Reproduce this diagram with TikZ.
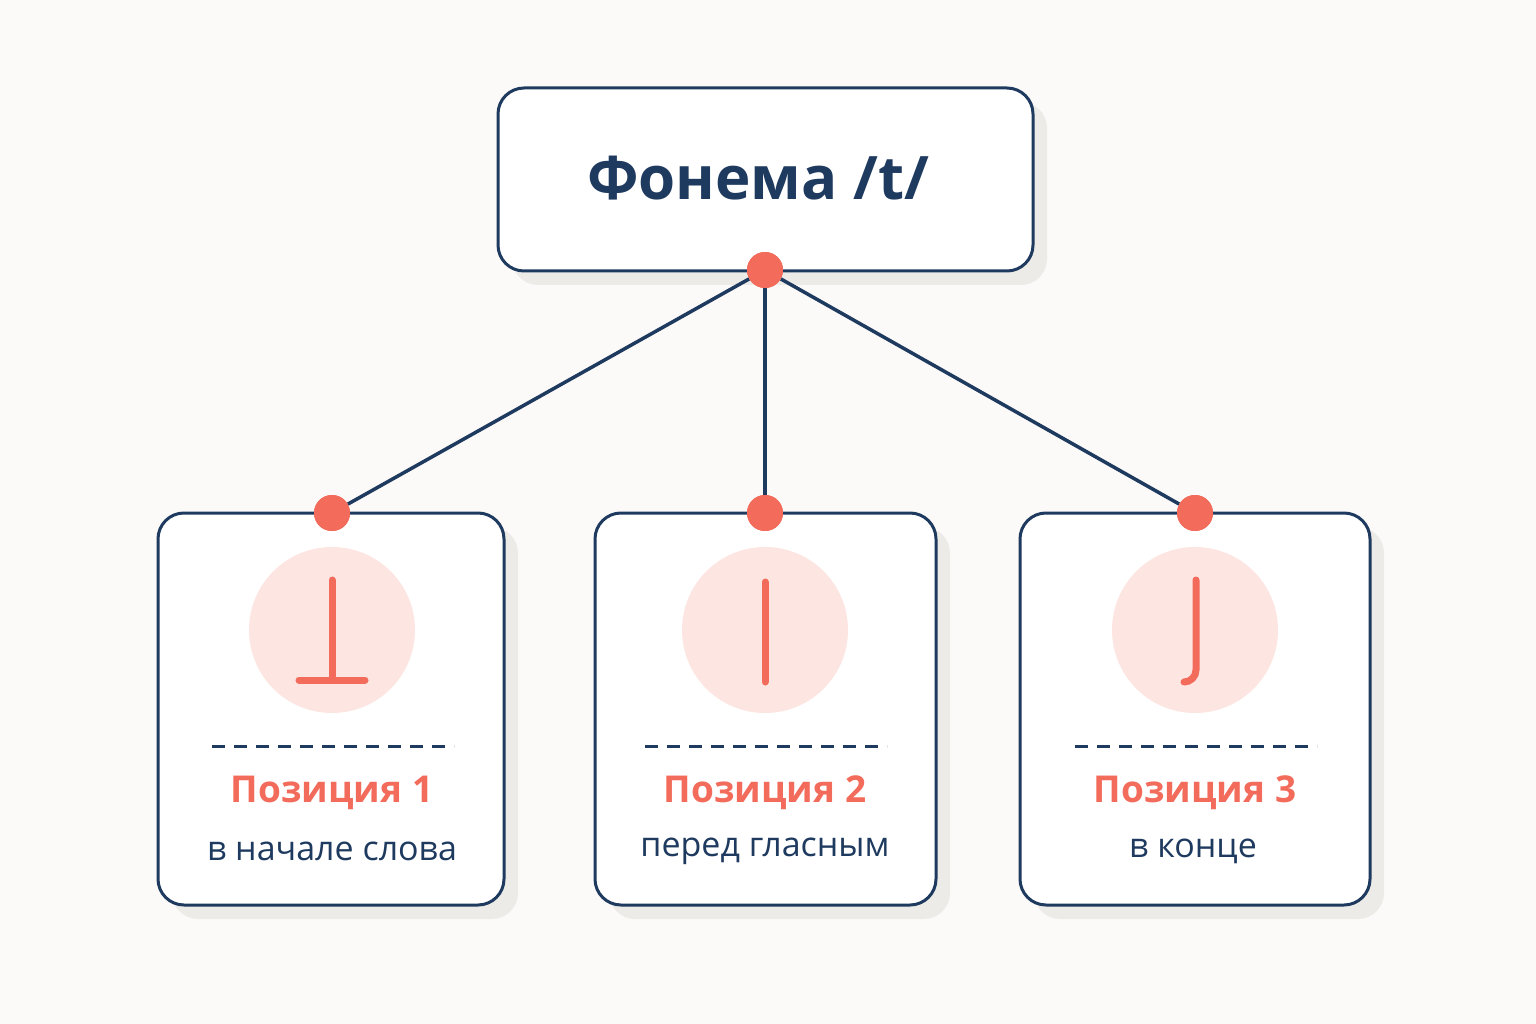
\documentclass[tikz,border=0pt]{standalone}
\usepackage{fontspec}
\setmainfont{Open Sans}
\definecolor{navy}{HTML}{1F3A5F}
\definecolor{sal}{HTML}{F26B5B}
\definecolor{pink}{HTML}{FDE6E1}
\definecolor{bg}{HTML}{FBFAF8}
\definecolor{shad}{HTML}{ECEBE8}
\begin{document}
\begin{tikzpicture}[x=1pt,y=-1pt,
 box/.style={draw=navy,line width=3pt,rounded corners=26pt,fill=white},
 dot/.style={circle,fill=sal,minimum size=36pt,inner sep=0pt},
 conn/.style={navy,line width=3.5pt},
 glyph/.style={sal,line width=7pt,line cap=round},
 lab/.style={font=\fontsize{37}{40}\selectfont\bfseries,text=sal},
 sub/.style={font=\fontsize{34}{38}\selectfont,text=navy}]
\fill[bg] (0,0) rectangle (1536,1024);
\useasboundingbox (0,0) rectangle (1536,1024);
% shadows
\fill[shad,rounded corners=26pt] (512,102) rectangle (1047,285);
\foreach \a/\b in {158/504,595/936,1020/1370}
  \fill[shad,rounded corners=26pt] (\a+14,527) rectangle (\b+14,919);
% top box
\draw[box] (498,88) rectangle (1033,271);
\node[font=\fontsize{60}{66}\selectfont\bfseries,text=navy] (top) at (758,178) {Фонема /t/};
% bottom boxes
\draw[box] (158,513) rectangle (504,905);
\draw[box] (595,513) rectangle (936,905);
\draw[box] (1020,513) rectangle (1370,905);
% connectors
\node[dot] (d0) at (765,270) {};
\node[dot] (d1) at (332,513) {};
\node[dot] (d2) at (765,513) {};
\node[dot] (d3) at (1195,513) {};
\draw[conn] (d0) -- (d1);
\draw[conn] (d0) -- (d2);
\draw[conn] (d0) -- (d3);
\node[dot] at (765,270) {};
\node[dot] at (332,513) {};
\node[dot] at (765,513) {};
\node[dot] at (1195,513) {};
% circles
\foreach \x in {332,765,1195} \fill[pink] (\x,630) circle (83);
\draw[glyph] (332,580) -- (332,680) (299,680) -- (365,680);
\draw[glyph] (765,582) -- (765,682);
\draw[glyph] (1196,580) -- (1196,670) arc[start angle=0,end angle=90,radius=12];
% dashed lines
\foreach \x in {332,765,1195}
  \draw[navy,line width=3pt,dash pattern=on 13pt off 9pt] (\x-120,746) -- (\x+122,746);
% labels
\node[lab] (l1) at (332,793) {Позиция 1};
\node[lab] (l2) at (765,793) {Позиция 2};
\node[lab] (l3) at (1195,793) {Позиция 3};
\node[sub] (s1) at (332,851) {в начале слова};
\node[sub] (s2) at (765,851) {перед гласным};
\node[sub] (s3) at (1193,851) {в конце};
\end{tikzpicture}
\end{document}
